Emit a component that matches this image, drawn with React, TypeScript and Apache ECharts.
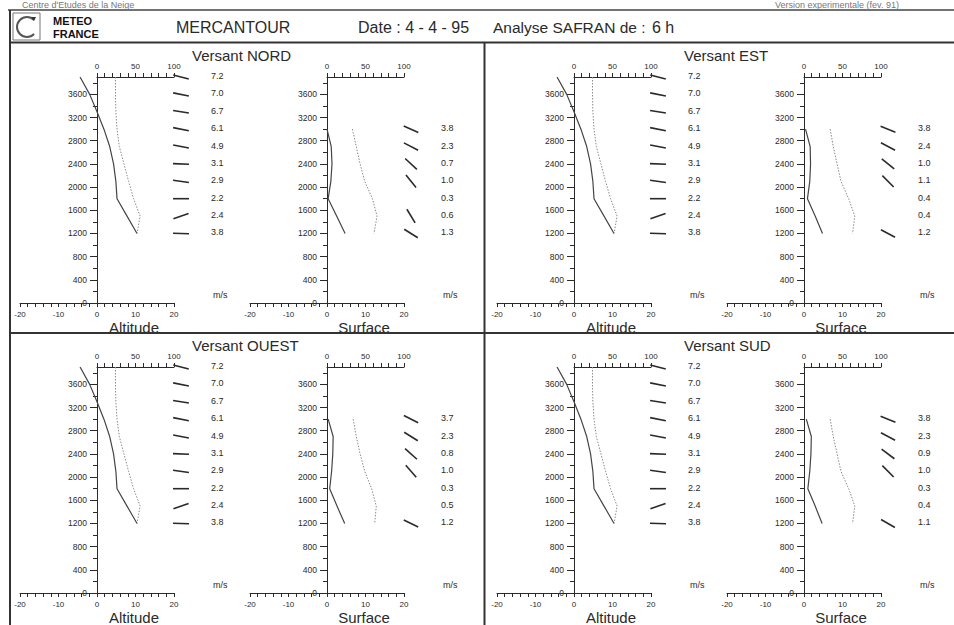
import React, { useEffect, useRef } from 'react';
import * as echarts from 'echarts';

// ---------- data ----------
const ALT_LEVELS = [3900, 3600, 3300, 3000, 2700, 2400, 2100, 1800, 1500, 1200];
const SURF_LEVELS = [3000, 2700, 2400, 2100, 1800, 1500, 1200];

// free-atmosphere profile (same for every slope)
const ALT_TEMP = [-4.4, -1.9, 0, 1.8, 3.3, 4.3, 4.9, 5.2, 7.8, 10.4];
const ALT_HUM = [24, 24, 24.5, 26, 29, 35, 41, 47.5, 56, 52];
const ALT_WIND_SPEED = [7.2, 7.0, 6.7, 6.1, 4.9, 3.1, 2.9, 2.2, 2.4, 3.8];
const ALT_WIND_TILT = [14, 11, 9, 11, 11, 2, 8, 0, -19, 2];

// surface profiles per slope
const NORD_SURF_TEMP = [0, 1.1, 1.3, 1.0, 0.3, 2.5, 4.7];
const NORD_SURF_HUM = [33, 38, 43, 49, 59, 65, 61];
const NORD_SURF_SPEED = [3.8, 2.3, 0.7, 1.0, 0.3, 0.6, 1.3];
const NORD_SURF_TILT = [24, 27, 43, 51, null, 59, 32];

const EST_SURF_TEMP = [0.4, 1.6, 1.7, 1.5, 0.9, 2.9, 4.8];
const EST_SURF_HUM = [34, 38, 43, 48, 58, 66, 63];
const EST_SURF_SPEED = [3.8, 2.4, 1.0, 1.1, 0.4, 0.4, 1.2];
const EST_SURF_TILT = [22, 28, 39, 45, null, null, 28];

const OUEST_SURF_TEMP = [0.3, 1.6, 1.5, 1.2, 0.7, 2.6, 4.6];
const OUEST_SURF_HUM = [34, 38, 43, 49, 58, 64, 62];
const OUEST_SURF_SPEED = [3.7, 2.3, 0.8, 1.0, 0.3, 0.5, 1.2];
const OUEST_SURF_TILT = [27, 32, 42, 49, null, null, 26];

const SUD_SURF_TEMP = [0.6, 1.9, 1.8, 1.5, 1.0, 2.9, 4.7];
const SUD_SURF_HUM = [34, 38, 43, 48, 58, 66, 63];
const SUD_SURF_SPEED = [3.8, 2.3, 0.9, 1.0, 0.3, 0.4, 1.1];
const SUD_SURF_TILT = [22, 28, 37, 45, null, null, 30];

const Y_MINOR_TICKS = [0, 200, 400, 600, 800, 1000, 1200, 1400, 1600, 1800, 2000, 2200, 2400, 2600, 2800, 3000, 3200, 3400, 3600, 3800];
const Y_LABELS = [0, 400, 800, 1200, 1600, 2000, 2400, 2800, 3200, 3600];

const SLOPE_NAMES = ['NORD', 'EST', 'OUEST', 'SUD'];
const SUB_LABELS = ['Altitude', 'Surface'];

// ---------- layout ----------
const INK = '#2a2a2a';
const FONT = 'Liberation Sans, Arial, sans-serif';
const PANEL_DX = [0, 477, 0, 477];
const PANEL_DY = [0, 0, 290, 290];
const TITLE_X = [192, 684, 192, 684];
const SUB_X0 = [97, 327];
const GRID_TOP = 77;
const GRID_H = 226;
const HALF_W = 77;

export default function App() {
  const ref = useRef<HTMLDivElement>(null);

  useEffect(() => {
    if (!ref.current) return;
    const chart = echarts.init(ref.current, undefined, { renderer: 'svg' });

    const surf = [
      { temp: NORD_SURF_TEMP, hum: NORD_SURF_HUM, speed: NORD_SURF_SPEED, tilt: NORD_SURF_TILT },
      { temp: EST_SURF_TEMP, hum: EST_SURF_HUM, speed: EST_SURF_SPEED, tilt: EST_SURF_TILT },
      { temp: OUEST_SURF_TEMP, hum: OUEST_SURF_HUM, speed: OUEST_SURF_SPEED, tilt: OUEST_SURF_TILT },
      { temp: SUD_SURF_TEMP, hum: SUD_SURF_HUM, speed: SUD_SURF_SPEED, tilt: SUD_SURF_TILT },
    ];

    const grids: any[] = [];
    const xAxes: any[] = [];
    const yAxes: any[] = [];
    const series: any[] = [];
    const graphics: any[] = [];

    const axisLine = { lineStyle: { color: INK, width: 1 } };
    const labelStyle = { fontSize: 8, color: INK, fontFamily: FONT };

    SLOPE_NAMES.forEach((name, pi) => {
      const dx = PANEL_DX[pi];
      const dy = PANEL_DY[pi];
      const T = GRID_TOP + dy;
      graphics.push({
        type: 'text', x: TITLE_X[pi], y: 55 + dy,
        style: { text: 'Versant ' + name, fill: INK, fontSize: 15, fontFamily: FONT, verticalAlign: 'middle', align: 'left' },
      });
      const subs = [
        { levels: ALT_LEVELS, temp: ALT_TEMP, hum: ALT_HUM, speed: ALT_WIND_SPEED, tilt: ALT_WIND_TILT },
        { levels: SURF_LEVELS, ...surf[pi] },
      ];
      subs.forEach((sub, si) => {
        const x0 = SUB_X0[si] + dx;
        // grid A: temperature (-20..20) over the full width, minor altitude ticks on x = 0
        const gA = grids.length;
        grids.push({ left: x0 - HALF_W, top: T, width: HALF_W * 2, height: GRID_H, containLabel: false });
        xAxes.push({
          gridIndex: gA, type: 'value', min: -20, max: 20, interval: 2, position: 'bottom',
          axisLine: { ...axisLine, onZero: false },
          axisTick: { length: 4, lineStyle: { color: INK } },
          axisLabel: { ...labelStyle, interval: 0, margin: 7, formatter: (v: number) => (Math.abs(v % 10) < 1e-9 ? String(v) : '') },
          splitLine: { show: false },
        });
        yAxes.push({
          gridIndex: gA, type: 'value', min: 0, max: 3900,
          axisLine: { ...axisLine, onZero: true },
          axisTick: { show: true, length: 4, customValues: Y_MINOR_TICKS, lineStyle: { color: INK } },
          axisLabel: { show: false },
          splitLine: { show: false },
        });
        // grid B: humidity (0..100) on the right half, labelled altitude axis
        const gB = grids.length;
        grids.push({ left: x0, top: T, width: HALF_W, height: GRID_H, containLabel: false });
        xAxes.push({
          gridIndex: gB, type: 'value', min: 0, max: 100, interval: 10, position: 'top',
          axisLine: { ...axisLine, onZero: false },
          axisTick: { length: 4, lineStyle: { color: INK } },
          axisLabel: { ...labelStyle, interval: 0, margin: 7, formatter: (v: number) => (v % 50 === 0 ? String(v) : '') },
          splitLine: { show: false },
        });
        yAxes.push({
          gridIndex: gB, type: 'value', min: 0, max: 3900, position: 'left',
          axisLine: { ...axisLine, onZero: false },
          axisTick: { show: true, length: 7, customValues: Y_LABELS, lineStyle: { color: INK } },
          axisLabel: { fontSize: 8.5, color: INK, fontFamily: FONT, margin: 10, customValues: Y_LABELS, formatter: (v: number) => String(v) },
          splitLine: { show: false },
        });

        series.push({
          type: 'line', xAxisIndex: gA, yAxisIndex: gA, symbol: 'none', silent: true,
          data: sub.levels.map((a, i) => [sub.temp[i], a]),
          lineStyle: { color: '#444', width: 1.2 },
        });
        series.push({
          type: 'line', xAxisIndex: gB, yAxisIndex: gB, symbol: 'none', silent: true,
          data: sub.levels.map((a, i) => [sub.hum[i], a]),
          lineStyle: { color: '#8a8a8a', width: 1, type: [1.5, 1.5] },
        });
        const speeds = sub.speed;
        const tilts = sub.tilt;
        series.push({
          type: 'custom', xAxisIndex: gB, yAxisIndex: gB, clip: false, silent: true,
          data: sub.levels.map((a) => [100, a]),
          renderItem: (params: any, api: any) => {
            const alt = api.value(1);
            const p = api.coord([100, alt]);
            const idx = params.dataIndex;
            const children: any[] = [];
            const t = tilts[idx];
            if (t !== null && t !== undefined) {
              const r = (t * Math.PI) / 180;
              const L = 8;
              const cx = p[0] + 7;
              const cy = p[1];
              children.push({
                type: 'line',
                shape: { x1: cx - L * Math.cos(r), y1: cy - L * Math.sin(r), x2: cx + L * Math.cos(r), y2: cy + L * Math.sin(r) },
                style: { stroke: INK, lineWidth: 1.6 },
              });
            }
            children.push({
              type: 'text',
              style: { text: speeds[idx].toFixed(1), x: p[0] + 37, y: p[1] - 1, fill: INK, fontSize: 9, fontFamily: FONT, verticalAlign: 'middle', align: 'left' },
            });
            return { type: 'group', children };
          },
        });

        graphics.push({
          type: 'text', x: x0 + 116, y: T + 218,
          style: { text: 'm/s', fill: INK, fontSize: 9, fontFamily: FONT, verticalAlign: 'middle', align: 'left' },
        });
        graphics.push({
          type: 'text', x: x0 + 37, y: T + 250,
          style: { text: SUB_LABELS[si], fill: INK, fontSize: 15, fontFamily: FONT, verticalAlign: 'middle', align: 'center' },
        });
      });
    });

    // frame lines
    const frame = { stroke: '#333', lineWidth: 2 };
    graphics.push({ type: 'line', shape: { x1: 8, y1: 10, x2: 954, y2: 10 }, style: { stroke: '#444', lineWidth: 1.5 } });
    graphics.push({ type: 'line', shape: { x1: 10, y1: 42.5, x2: 954, y2: 42.5 }, style: frame });
    graphics.push({ type: 'line', shape: { x1: 10, y1: 10, x2: 10, y2: 625 }, style: frame });
    graphics.push({ type: 'line', shape: { x1: 484.5, y1: 42, x2: 484.5, y2: 625 }, style: frame });
    graphics.push({ type: 'line', shape: { x1: 10, y1: 333, x2: 954, y2: 333 }, style: frame });

    // header
    graphics.push({ type: 'text', x: 22, y: 5, style: { text: "Centre d'Etudes de la Neige", fill: '#777', fontSize: 9, fontFamily: FONT, verticalAlign: 'middle' } });
    graphics.push({ type: 'text', x: 775, y: 5, style: { text: 'Version experimentale (fev. 91)', fill: '#777', fontSize: 9, fontFamily: FONT, verticalAlign: 'middle' } });
    graphics.push({ type: 'rect', shape: { x: 13, y: 13, width: 27, height: 27 }, style: { fill: 'none', stroke: '#777', lineWidth: 1 } });
    graphics.push({ type: 'arc', shape: { cx: 27, cy: 27, r: 10, startAngle: Math.PI * 0.25, endAngle: Math.PI * 1.75, clockwise: true }, style: { stroke: '#555', lineWidth: 2, fill: 'none' } });
    graphics.push({ type: 'polygon', shape: { points: [[31, 17], [36, 17], [34, 21]] }, style: { fill: '#333' } });
    graphics.push({ type: 'text', x: 53, y: 21, style: { text: 'METEO', fill: '#111', fontSize: 11, fontWeight: 'bold', fontFamily: FONT, verticalAlign: 'middle' } });
    graphics.push({ type: 'text', x: 53, y: 33.5, style: { text: 'FRANCE', fill: '#111', fontSize: 11, fontWeight: 'bold', fontFamily: FONT, verticalAlign: 'middle' } });
    graphics.push({ type: 'text', x: 176, y: 27, style: { text: 'MERCANTOUR', fill: INK, fontSize: 16, fontFamily: FONT, verticalAlign: 'middle' } });
    graphics.push({ type: 'text', x: 358, y: 27, style: { text: 'Date : 4 - 4 - 95', fill: INK, fontSize: 16, fontFamily: FONT, verticalAlign: 'middle' } });
    graphics.push({ type: 'text', x: 493, y: 27, style: { text: 'Analyse SAFRAN de :', fill: INK, fontSize: 15.5, fontFamily: FONT, verticalAlign: 'middle' } });
    graphics.push({ type: 'text', x: 652, y: 27, style: { text: '6 h', fill: INK, fontSize: 16, fontFamily: FONT, verticalAlign: 'middle' } });

    chart.setOption({
      animation: false,
      backgroundColor: '#ffffff',
      grid: grids,
      xAxis: xAxes,
      yAxis: yAxes,
      series,
      graphic: graphics,
    });

    return () => chart.dispose();
  }, []);

  return <div ref={ref} style={{ position: 'absolute', left: 0, top: 0, width: 954, height: 625, background: '#fff' }} />;
}
